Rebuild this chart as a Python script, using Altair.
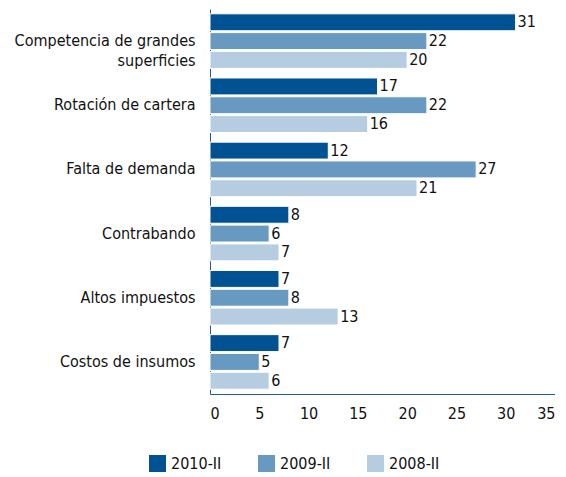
import altair as alt
import pandas as pd

categories = ["Competencia de grandes superficies", "Rotación de cartera", "Falta de demanda",
              "Contrabando", "Altos impuestos", "Costos de insumos"]
series = ["2010-II", "2009-II", "2008-II"]
v2010 = [31, 17, 12, 8, 7, 7]
v2009 = [22, 22, 27, 6, 8, 5]
v2008 = [20, 16, 21, 7, 13, 6]
colors = ["#005293", "#6899C1", "#B5CCE1"]

rows = []
for s, vals in zip(series, [v2010, v2009, v2008]):
    for c, v in zip(categories, vals):
        rows.append({"cat": c, "serie": s, "val": v})
df = pd.DataFrame(rows)

FONT = "DejaVu Sans Condensed"
FS = 16

y = alt.Y("cat:N", sort=categories, title=None,
          scale=alt.Scale(paddingInner=0.15, paddingOuter=0.075),
          axis=alt.Axis(labelFontSize=FS, labelFont=FONT, labelColor="#111", ticks=False,
                        domainColor="#1F5C99", labelPadding=15, labelLimit=300,
                        labelLineHeight=20,
                        labelExpr="datum.label == 'Competencia de grandes superficies' ? ['Competencia de grandes', 'superficies'] : datum.label"))
yo = alt.YOffset("serie:N", sort=series, scale=alt.Scale(paddingInner=0.1))
x = alt.X("val:Q", title=None, scale=alt.Scale(domain=[0, 35]),
          axis=alt.Axis(values=[0, 5, 10, 15, 20, 25, 30, 35], grid=False, ticks=False,
                        labelFontSize=FS, labelFont=FONT, labelColor="#111",
                        domainColor="#1F5C99", labelPadding=11))

bars = alt.Chart(df).mark_bar(stroke="white", strokeWidth=1).encode(
    y=y, yOffset=yo, x=x,
    color=alt.Color("serie:N", sort=series,
                    scale=alt.Scale(domain=series, range=colors),
                    legend=alt.Legend(title=None, orient="none", direction="horizontal",
                                      legendX=-61, legendY=446, symbolType="square",
                                      symbolSize=289, symbolStrokeWidth=0,
                                      labelFontSize=FS, labelFont=FONT, labelColor="#111",
                                      columnPadding=36, labelOffset=5)))

labels = alt.Chart(df).mark_text(align="left", baseline="middle", dx=2, fontSize=FS,
                                 font=FONT, color="#111").encode(
    y=y, yOffset=yo, x=x, text="val:Q")

chart = (bars + labels).properties(width=345, height=385,
                                   padding={"left": 6, "top": 1, "right": 0, "bottom": 0}
                                   ).configure_view(stroke=None)

chart.save("out.html", embed_options={"renderer": "svg", "actions": False})
